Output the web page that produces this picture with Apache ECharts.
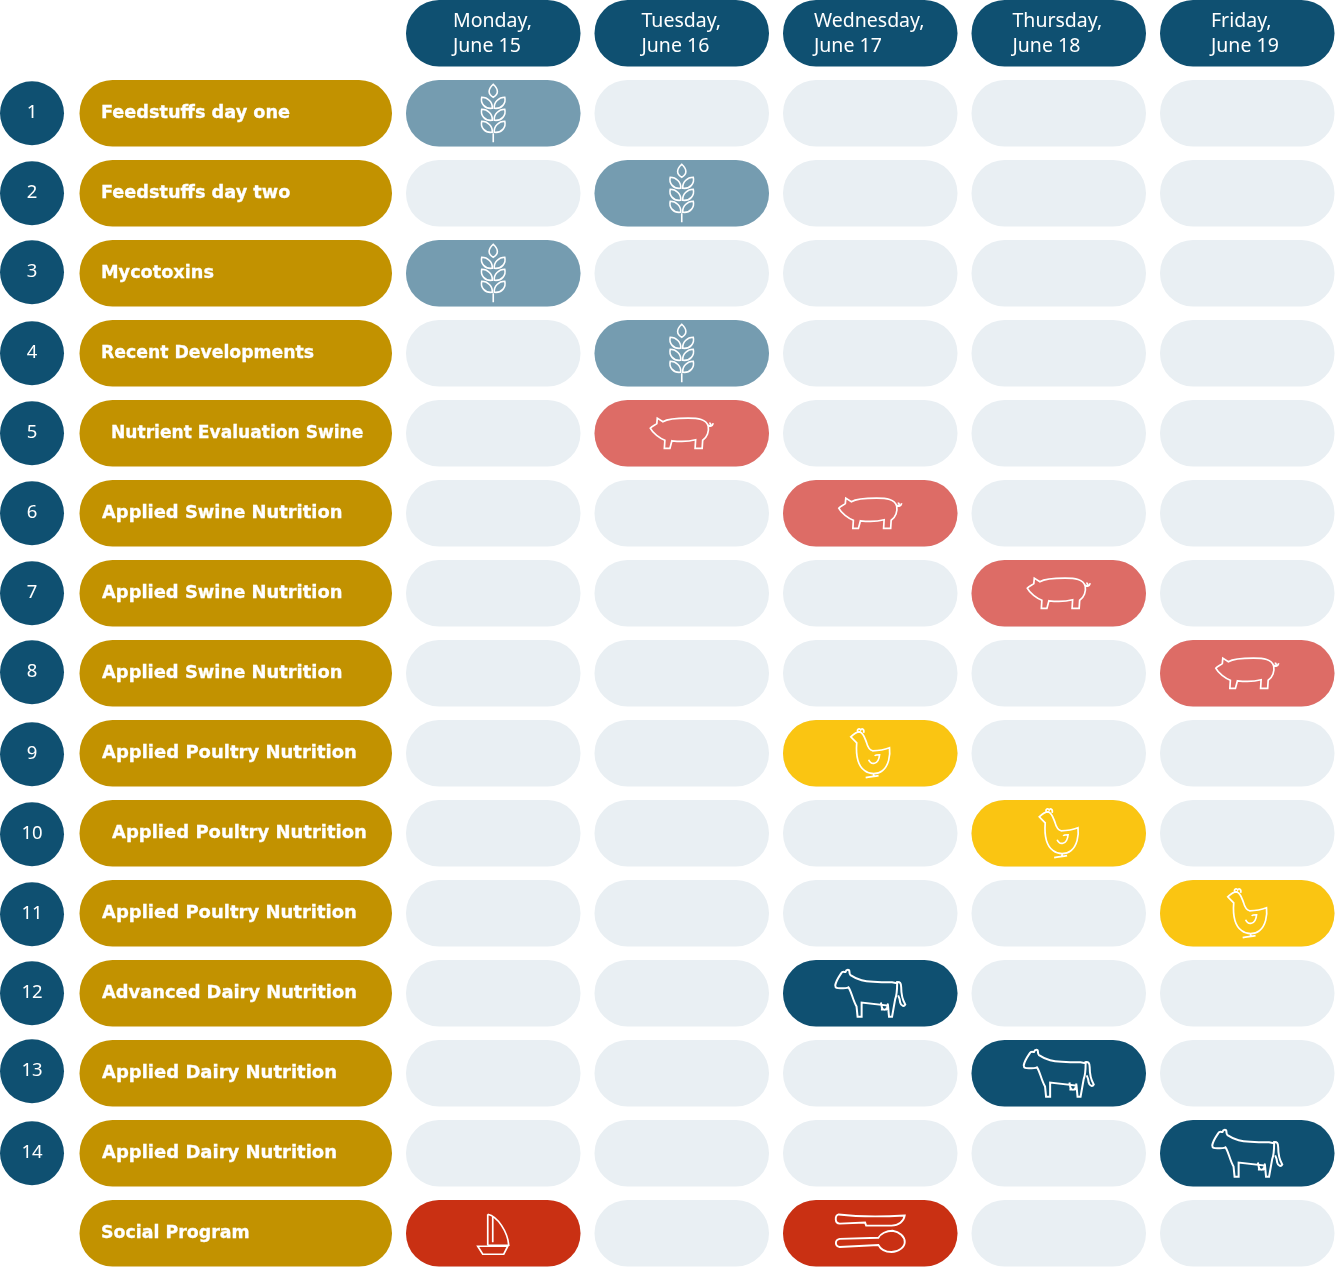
<!DOCTYPE html>
<html><head><meta charset="utf-8">
<style>html,body{margin:0;padding:0;background:#fff}#c{width:1336px;height:1267px}</style>
<script src="https://cdn.jsdelivr.net/npm/echarts@6/dist/echarts.min.js"></script>
</head><body><div id="c"></div>
<script>
// ---- data ----
const days = ['Monday,\nJune 15','Tuesday,\nJune 16','Wednesday,\nJune 17','Thursday,\nJune 18','Friday,\nJune 19'];
const courses = ['Feedstuffs day one','Feedstuffs day two','Mycotoxins','Recent Developments','Nutrient Evaluation Swine','Applied Swine Nutrition','Applied Swine Nutrition','Applied Swine Nutrition','Applied Poultry Nutrition','Applied Poultry Nutrition','Applied Poultry Nutrition','Advanced Dairy Nutrition','Applied Dairy Nutrition','Applied Dairy Nutrition','Social Program'];
const courseNumbers = ['1','2','3','4','5','6','7','8','9','10','11','12','13','14',''];
const sessionRow = [0,1,2,3,4,5,6,7,8,9,10,11,12,13,14,14];
const sessionDay = [0,1,0,1,1,2,3,4,2,3,4,2,3,4,0,2];
const sessionTopic = ['feed','feed','feed','feed','swine','swine','swine','swine','poultry','poultry','poultry','dairy','dairy','dairy','sail','meal'];

// ---- styles ----
const NAVY='#0F5071', GOLD='#C29200', EMPTY='#E9EFF3';
const topicColor={feed:'#759CB0',swine:'#DD6C66',poultry:'#FAC512',dairy:NAVY,sail:'#C93013',meal:'#C93013'};
const labelInset=[22,22,22,22,32,23,23,23,23,33,23,23,23,23,22];
const labelSize=[17.7,17.7,17.7,17.25,17.1,17.9,17.9,17.9,18,18,18,17.85,18,18,17.4];
const circleShift=[0,0,-1,0,0,0,0,-1,1,1,1,0,-2,0,0];
const headerInset=[47,47,31,41,51];
const ICON={
 feed:{w:25,h:58,dy:0,sw:1.6,d:'M12.5 0C7 5 7 10 12.5 13C18 10 18 5 12.5 0Z M11.5 24C12 18 7 13 1 13C-0.5 19 4 25 11.5 24Z M13.5 24C13 18 18 13 24 13C25.5 19 21 25 13.5 24Z M11.5 36C12 30 7 25 1 25C-0.5 31 4 37 11.5 36Z M13.5 36C13 30 18 25 24 25C25.5 31 21 37 13.5 36Z M11.5 48C12 42 7 37 1 37C-0.5 43 4 49 11.5 48Z M13.5 48C13 42 18 37 24 37C25.5 43 21 49 13.5 48Z M12.5 49V58'},
 swine:{w:63,h:31,dy:0,sw:1.7,d:'M0.5 11C2 9 5 8 7 6.5L7.5 1L13 4.5C18 1.5 28 1 38 1C48 1 56 2 58 9C59 14 57 20 52.5 23L52 31L45 31L45.5 22.5C38 24.5 30 24.5 22 23.5L20 31L14.5 31L15 23C10 21 3 16 0.5 11Z M58 8C60 10 62 9 63 6 M59 6A1.5 1.5 0 1 1 59 9'},
 poultry:{w:39,h:50,dy:0,sw:1.7,d:'M0 9C3 6 5 4 9 4C13 5 14 10 16 15C17 19 19 22 22 23C28 23 34 22 39 20C40 28 38 38 32 43C27 47 19 47 14 43C7 38 5 28 6 15C4 13 2 11 0 9Z M7 4C6 1 9 0 10 2C11 0 14 1 13 5 M23 46V49 M15 50C20 49 24 49 28 48 M18 32C20 37 28 38 29 27C27 27 25 27 24 28'},
 dairy:{w:70,h:47,dy:0,sw:2,d:'M1 16C2 11 5 7 7 4C8 2 10 3 11 3C12 0 15 0 15 3C15 5 15 5 16 6C19 8 22 10 27 11C35 13 48 13 57 13L62 14C62 20 62 25 60 30L57 47L54 47L53 36L27 33L27 47L23 47L22 37C18 30 17 22 14 18C12 19 9 19 6 19C3 19 1 19 1 16Z M61 13C65 12 66 14 66 18C66 24 67 30 70 35C69 37 66 37 65 33C65 30 64 28 63 26 M46 33L47 38C48 41 51 41 52 38L53 34 M47 39V41 M51 39V41'},
 sail:{w:31,h:40,dy:1,sw:1.7,d:'M10 0V31 M15 2V28 M10 0C20 2 30 18 31 31L10 31 M0 32H30L26 40H5Z'},
 meal:{w:69,h:38,dy:0,sw:1.9,d:'M3 1C20 3 50 3 68 2C67 8 62 12 55 12L30 12L29 9L4 10C-1 10 -1 2 3 1Z M4 25L42 24C44 20 50 17 56 17C63 18 68 23 68 28C68 33 62 38 55 38C49 38 44 35 42 31L4 33C-1 32 -1 26 4 25Z'}
};
const PILL_W=174.5, PILL_H=66.5;
const LABEL_LEFT=79.5, LABEL_W=312.5, NUM_CX=32, NUM_R=32;
const labelFont={fontFamily:'"DejaVu Sans"',fontWeight:'bold',stroke:'#fff',lineWidth:0.3};
const thinFont={fontFamily:'"Noto Sans"',fontWeight:'normal',fontSize:19.5};

// y category 0 is the header row; courses start at 1
const rowCats=['header'].concat(courses.map((c,i)=>'row'+i));
const pill=(cx,cy,fill)=>({type:'rect',shape:{x:cx-PILL_W/2,y:cy-PILL_H/2,width:PILL_W,height:PILL_H,r:33},style:{fill}});

const headerData=days.map((d,i)=>[i,0,d]);
const emptyData=[];
courses.forEach((c,r)=>days.forEach((d,i)=>emptyData.push([i,r+1])));
const sessionData=sessionRow.map((r,i)=>[sessionDay[i],r+1,sessionTopic[i]]);
const courseData=courses.map((c,r)=>[0,r+1,c,courseNumbers[r]]);

const base={type:'custom',coordinateSystem:'cartesian2d',clip:false,silent:true,animation:false,encode:{x:0,y:1}};
const option={
 animation:false,
 grid:{left:399,top:-6.75,width:942.5,height:1280,containLabel:false,outerBoundsMode:'none'},
 xAxis:{type:'category',data:days,show:false},
 yAxis:{type:'category',data:rowCats,inverse:true,show:false},
 series:[
  {...base,name:'Days',data:headerData,renderItem(p,api){
    const [cx,cy]=api.coord([api.value(0),0]);
    const i=p.dataIndex;
    return {type:'group',children:[pill(cx,cy,NAVY),
     {type:'text',style:{text:days[i],x:cx-PILL_W/2+headerInset[i],y:cy+0.5,fill:'#fff',...thinFont,lineHeight:25,align:'left',verticalAlign:'middle'}}]};
  }},
  {...base,name:'Empty',data:emptyData,renderItem(p,api){
    const [cx,cy]=api.coord([api.value(0),api.value(1)]);
    return pill(cx,cy,EMPTY);
  }},
  {...base,name:'Sessions',data:sessionData,renderItem(p,api){
    const [cx,cy]=api.coord([api.value(0),api.value(1)]);
    const t=sessionTopic[p.dataIndex], ic=ICON[t];
    return {type:'group',children:[pill(cx,cy,topicColor[t]),
     {type:'path',shape:{pathData:ic.d,x:cx-ic.w/2,y:cy-ic.h/2+ic.dy,width:ic.w,height:ic.h},style:{fill:'none',stroke:'#fff',lineWidth:ic.sw}}]};
  }},
  {...base,name:'Courses',data:courseData,renderItem(p,api){
    const cy=api.coord([0,api.value(1)])[1];
    const r=p.dataIndex;
    const kids=[{type:'rect',shape:{x:LABEL_LEFT,y:cy-PILL_H/2,width:LABEL_W,height:PILL_H,r:33},style:{fill:GOLD}},
      {type:'text',style:{text:courses[r],x:LABEL_LEFT+labelInset[r]-0.5,y:cy+0.5,fill:'#fff',...labelFont,fontSize:labelSize[r],align:'left',verticalAlign:'middle'}}];
    if(courseNumbers[r]){
      const ccy=cy+circleShift[r];
      kids.push({type:'circle',shape:{cx:NUM_CX,cy:ccy,r:NUM_R},style:{fill:NAVY}});
      kids.push({type:'text',style:{text:courseNumbers[r],x:NUM_CX,y:ccy-1,fill:'#fff',...thinFont,fontSize:18.5,align:'center',verticalAlign:'middle'}});
    }
    return {type:'group',children:kids};
  }}
 ]
};
const chart=echarts.init(document.getElementById('c'),null,{renderer:'canvas'});
chart.setOption(option);
</script></body></html>
